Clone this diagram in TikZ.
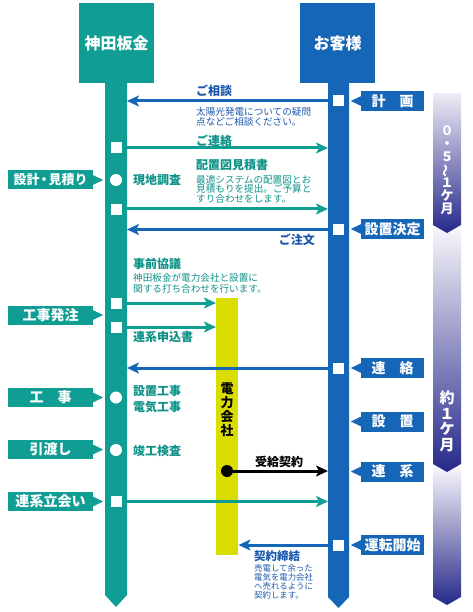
\documentclass[tikz,border=0pt]{standalone}
\usepackage{fontspec}
\usepackage{graphicx}
\newfontfamily\jp{Noto Sans CJK JP}
\usetikzlibrary{arrows.meta}
\definecolor{tealc}{RGB}{16,158,148}
\definecolor{tealt}{RGB}{14,146,136}
\definecolor{bluec}{RGB}{22,102,184}
\definecolor{bluet}{RGB}{26,88,172}
\definecolor{yelc}{RGB}{218,222,0}
\definecolor{navy}{RGB}{38,40,138}
\definecolor{lav}{RGB}{150,140,202}
\definecolor{pale}{RGB}{238,236,246}
\newcommand{\jpfs}[1]{\jp\fontsize{#1}{#1}\selectfont}
\begin{document}
\begin{tikzpicture}[x=1pt,y=-1pt,
  tarr/.style={tealc,line width=3pt,-{Stealth[length=12pt,width=11pt,inset=3pt]}},
  barr/.style={bluec,line width=3pt,-{Stealth[length=12pt,width=11pt,inset=3pt]}},
  karr/.style={black,line width=3pt,-{Stealth[length=12pt,width=11pt,inset=3pt]}},
  rtag/.style={fill=bluec,text=white,minimum width=63pt,minimum height=20pt,inner sep=0pt,font=\jpfs{14}\bfseries},
  ltag/.style={fill=tealc,text=white,minimum width=85pt,minimum height=19pt,inner sep=0pt,font=\jpfs{14}\bfseries},
  sqbox/.style={fill=white,minimum size=11pt,inner sep=0pt},
  cdot/.style={circle,fill=white,minimum size=12pt,inner sep=0pt},
  hd/.style={anchor=west,inner sep=0pt,font=\jpfs{12}\bfseries},
  sm/.style={anchor=west,inner sep=0pt,font=\jpfs{9.6}},
  hdr/.style={minimum width=75pt,minimum height=80pt,inner sep=0pt,text=white,font=\jpfs{16}\bfseries}]
\useasboundingbox (0,0) rectangle (472,612);

% time bar (right)
\shade[top color=white!92!lav,middle color=lav,bottom color=navy] (433,468) -- (461,468) -- (461,597) -- (447,605) -- (433,597) -- cycle;
\shade[top color=white!92!lav,middle color=lav!85!navy,bottom color=navy] (433,228) -- (461,228) -- (461,464) -- (447,472) -- (433,464) -- cycle;
\shade[top color=pale,middle color=lav!80!navy,bottom color=navy] (433,93) -- (461,93) -- (461,225) -- (447,233) -- (433,225) -- cycle;
\node[align=center,text=white,inner sep=0pt,font=\jpfs{13}\bfseries] (per1) at (447,170) {０\\・\\５\\\rotatebox[origin=c]{90}{～}\\１\\ケ\\月};
\node[align=center,text=white,inner sep=0pt,font=\jp\fontsize{15}{15.5}\selectfont\bfseries] (per2) at (447,421.5) {約\\１\\ケ\\月};

% columns
\fill[tealc] (105,80) -- (127,80) -- (127,595) -- (116,607) -- (105,595) -- cycle;
\fill[bluec] (328,80) -- (349,80) -- (349,597) -- (338.5,608) -- (328,597) -- cycle;
\node[hdr,fill=tealc] (hdrL) at (116.5,43) {神田板金};
\node[hdr,fill=bluec] (hdrR) at (337.5,43) {お客様};

% power company bar
\fill[yelc] (216,298) rectangle (238,555);
\node[align=center,inner sep=0pt,font=\jp\fontsize{13}{14}\selectfont\bfseries] (den) at (227,410) {電\\力\\会\\社};

% coordinates on columns
\coordinate (b101) at (328,101);  \coordinate (t101) at (127,101);
\coordinate (t148) at (127,148);  \coordinate (b148) at (328,148);
\coordinate (t209) at (127,209);  \coordinate (b209) at (328,209);
\coordinate (b229) at (328,229.5);\coordinate (t229) at (127,229.5);
\coordinate (t303) at (127,303);  \coordinate (y303) at (216,303);
\coordinate (t327) at (127,327);  \coordinate (y327) at (216,327);
\coordinate (b368) at (328,368);  \coordinate (t368) at (127,368);
\coordinate (b471) at (328,471);
\coordinate (t501) at (127,501.5);\coordinate (b501) at (328,501.5);
\coordinate (b545) at (328,545);  \coordinate (y545) at (238.5,545);

% arrows
\draw[barr] (b101) -- (t101);
\draw[tarr] (t148) -- (b148);
\draw[tarr] (t209) -- (b209);
\draw[barr] (b229) -- (t229);
\draw[tarr] (t303) -- (y303);
\draw[tarr] (t327) -- (y327);
\draw[barr] (b368) -- (t368);
\node[circle,fill=black,minimum size=12pt,inner sep=0pt] (kdot) at (227,471) {};
\draw[karr] (kdot.east) -- (b471);
\draw[tarr] (t501) -- (b501);
\draw[barr] (b545) -- (y545);

% markers on columns
\node[sqbox] (q1) at (116,148) {};
\node[cdot]  (c1) at (116,180) {};
\node[sqbox] (q2) at (116,209.5) {};
\node[sqbox] (q3) at (116,303) {};
\node[sqbox] (q4) at (116,327) {};
\node[cdot]  (c2) at (116,397.5) {};
\node[cdot]  (c3) at (116,450) {};
\node[sqbox] (q5) at (116,501.5) {};
\node[sqbox] (r1) at (338.5,101) {};
\node[sqbox] (r2) at (338.5,229.5) {};
\node[sqbox] (r3) at (338.5,368) {};
\node[sqbox] (r4) at (338.5,545) {};

% right tags
\foreach \n/\yy/\tx in {g1/101/計　画, g2/229/設置決定, g3/368/連　絡, g4/421.5/設　置, g5/471.5/連　系, g6/545/運転開始}{
  \node[rtag] (\n) at (392.5,\yy) {\tx};
  \fill[bluec] (\n.west) ++(0.5,-5) -- ++(-10.5,5) -- ++(10.5,5) -- cycle;
}
% left tags
\foreach \n/\yy/\tx in {s2/315/工事発注, s3/397.5/工　事, s4/449.5/引渡し, s5/501.5/連系立会い}{
  \node[ltag] (\n) at (50.5,\yy) {\tx};
  \fill[tealc] (\n.east) ++(-0.5,-5) -- ++(10.5,5) -- ++(-10.5,5) -- cycle;
}
\node[ltag,font=\jpfs{13}\bfseries] (s1) at (50.5,180) {設計\kern-2pt・\kern-2pt見積り};
\fill[tealc] (s1.east) ++(-0.5,-5) -- ++(10.5,5) -- ++(-10.5,5) -- cycle;

% labels
\node[hd,text=bluet] (la1) at (196,91) {ご相談};
\node[sm,text=bluet] (la1a) at (196,112) {太陽光発電についての疑問};
\node[sm,text=bluet] (la1b) at (196,121.5) {点などご相談ください。};
\node[hd,text=tealt] (la2) at (196,140.5) {ご連絡};
\node[hd,text=tealt] (la3) at (196,165) {配置図見積書};
\node[sm,text=tealt] (la3a) at (196,179.5) {最適システムの配置図とお};
\node[sm,text=tealt] (la3b) at (196,189) {見積もりを提出。ご予算と};
\node[sm,text=tealt] (la3c) at (196,198.5) {すり合わせをします。};
\node[hd,text=tealt] (la4) at (133,180) {現地調査};
\node[hd,text=bluet,anchor=east] (la5) at (315,240) {ご注文};
\node[hd,text=tealt] (la6) at (133,264) {事前協議};
\node[sm,text=tealt] (la6a) at (133,278) {神田板金が電力会社と設置に};
\node[sm,text=tealt] (la6b) at (133,288.5) {関する打ち合わせを行います。};
\node[hd,text=tealt] (la7) at (133,337) {連系申込書};
\node[hd,text=tealt] (la8) at (133,391) {設置工事};
\node[hd,text=tealt] (la8b) at (133,407) {電気工事};
\node[hd,text=tealt] (la9) at (133,451) {竣工検査};
\node[hd,text=black] (la10) at (255,462) {受給契約};
\node[hd,text=bluet,font=\jpfs{11.5}\bfseries] (la11) at (254,556.5) {契約締結};
\node[sm,text=bluet,font=\jpfs{8.4}] (la11a) at (254,568.5) {売電して余った};
\node[sm,text=bluet,font=\jpfs{8.4}] (la11b) at (254,577.3) {電気を電力会社};
\node[sm,text=bluet,font=\jpfs{8.4}] (la11c) at (254,586.2) {へ売れるように};
\node[sm,text=bluet,font=\jpfs{8.4}] (la11d) at (254,595) {契約します。};
\end{tikzpicture}
\end{document}
